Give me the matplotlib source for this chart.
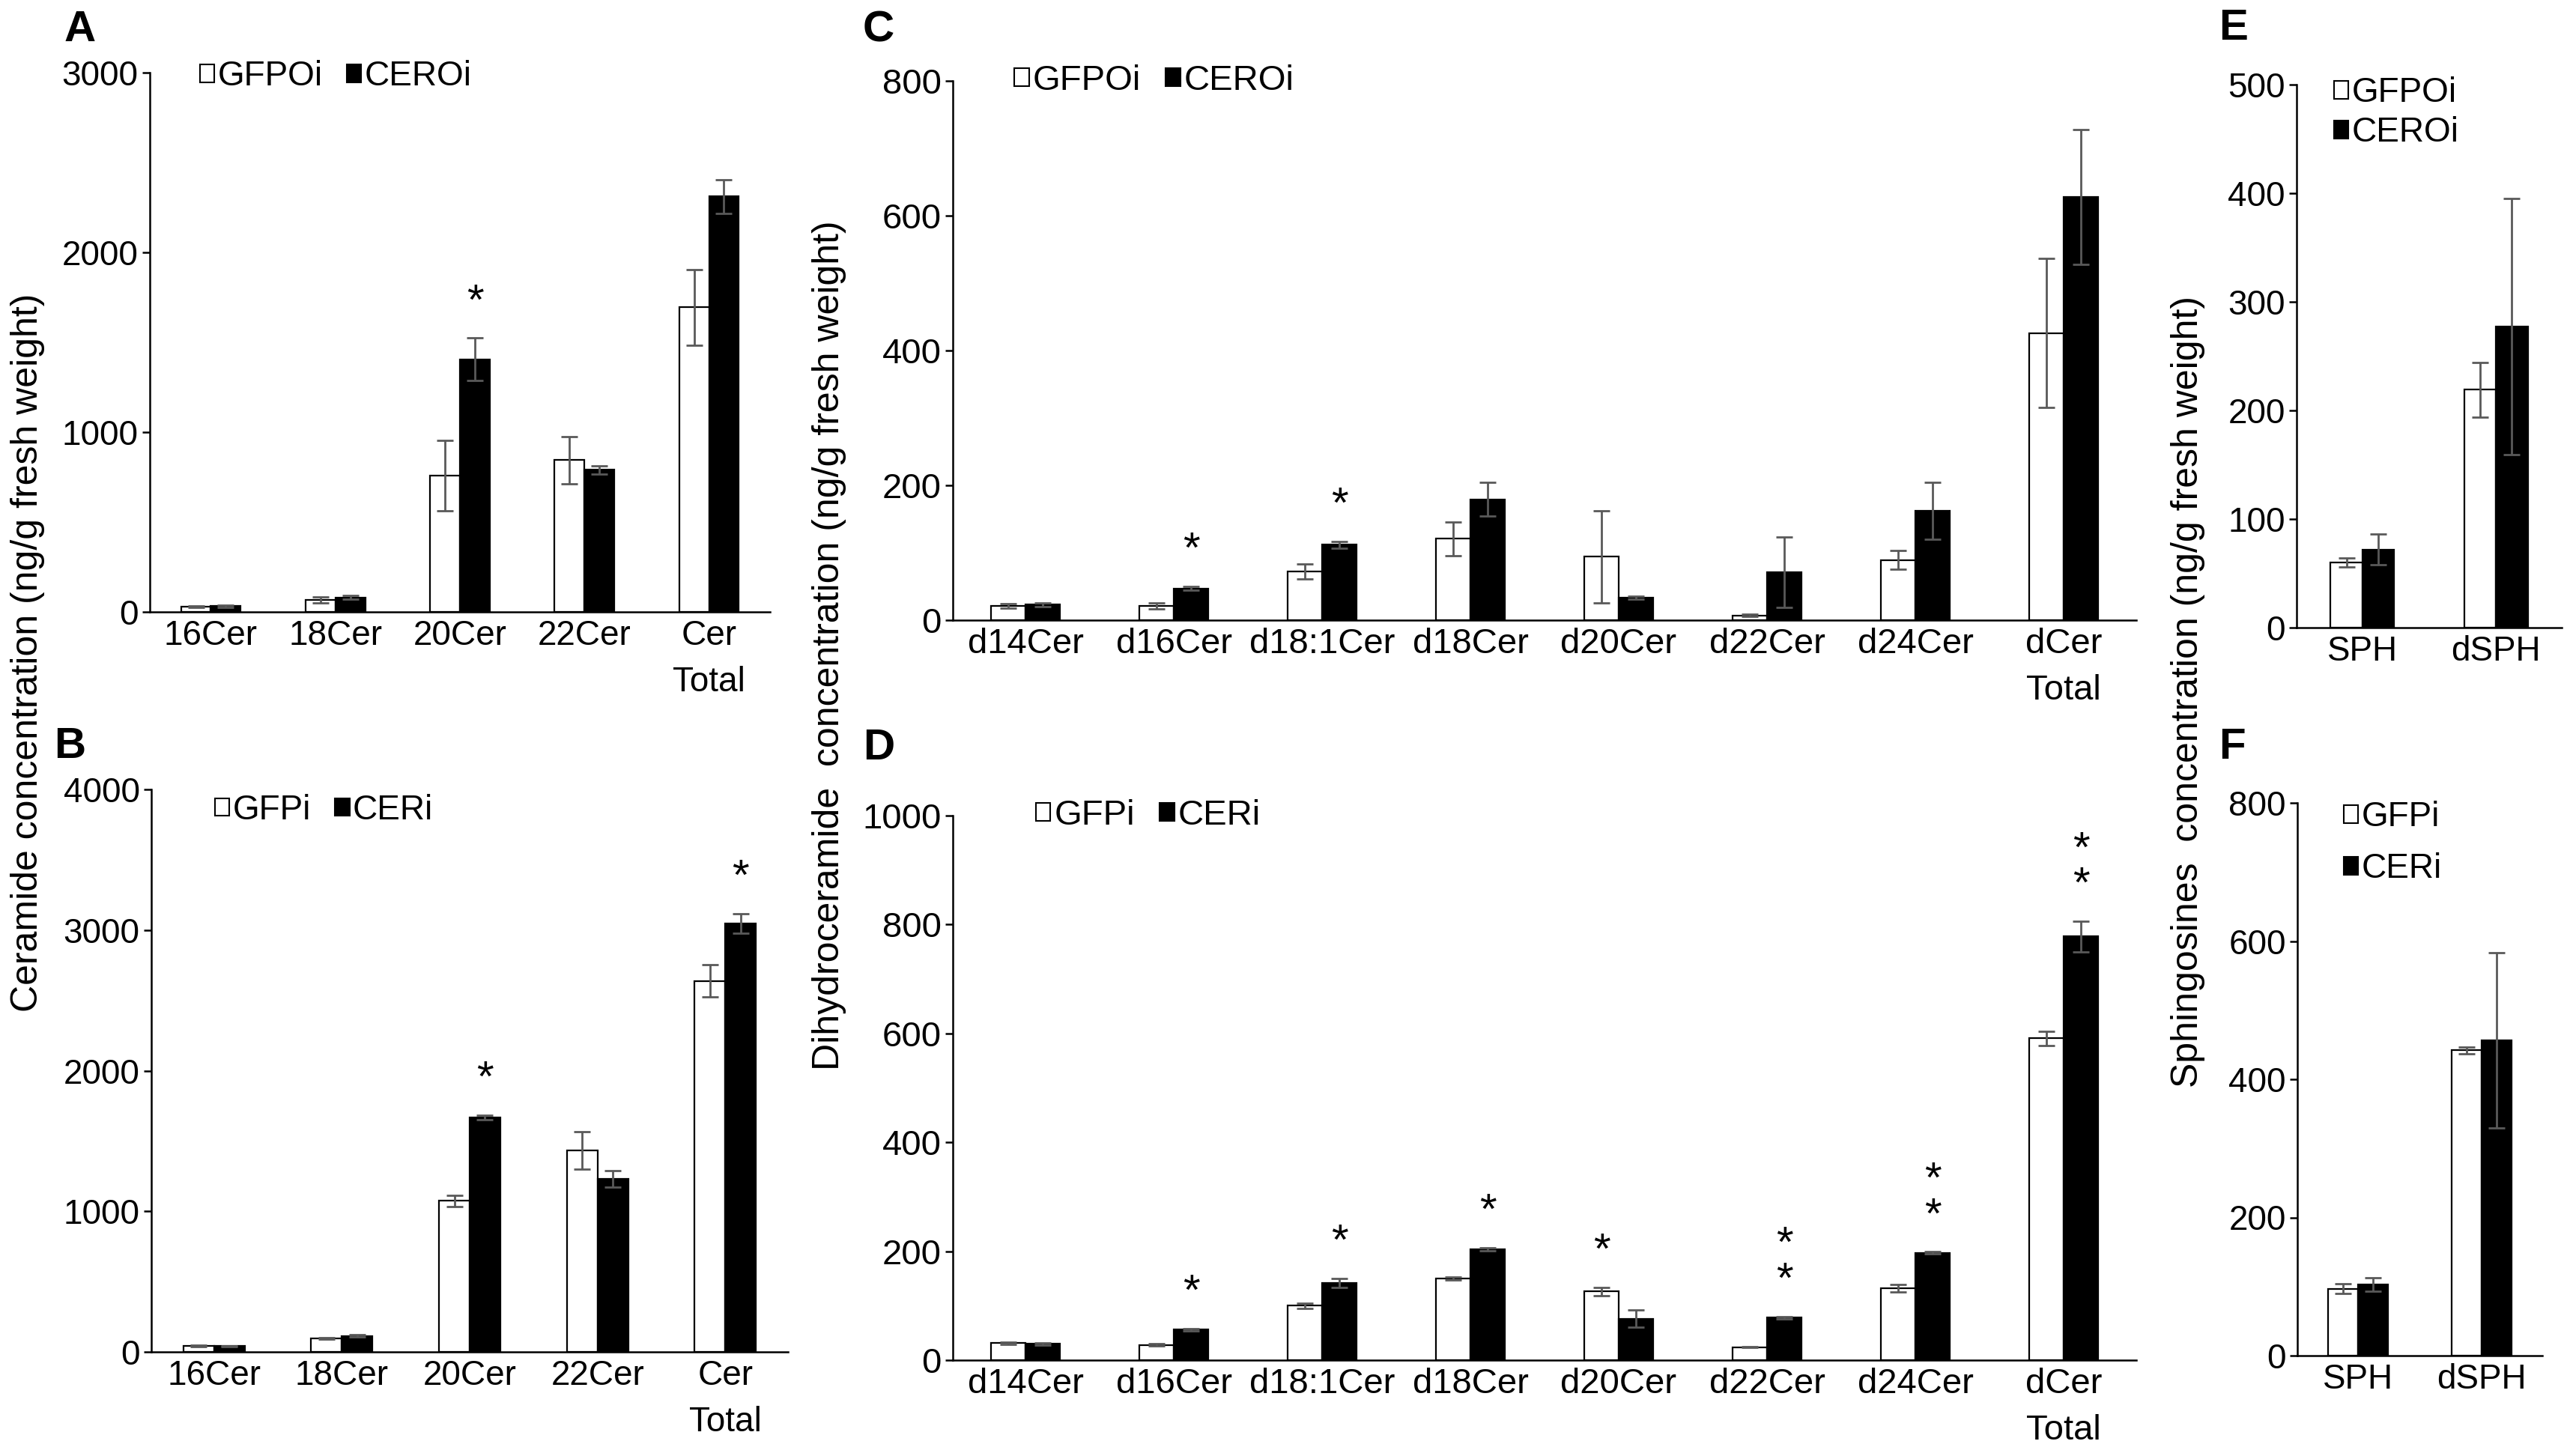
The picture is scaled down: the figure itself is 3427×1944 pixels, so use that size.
import matplotlib
matplotlib.use('Agg')
import matplotlib.pyplot as plt
from matplotlib.patches import Patch
import numpy as np

plt.rcParams['font.family'] = ['Liberation Sans', 'DejaVu Sans']

W, H, DPI = 3427, 1944, 100

# ---------------- data ----------------
# Panel A: ceramides, overexpression lines
a_cats = ['16Cer', '18Cer', '20Cer', '22Cer', 'Cer\nTotal']
a_gfp = [30, 65, 758, 844, 1695]
a_gfp_err = [5, 17, 195, 131, 210]
a_cer = [32, 81, 1406, 790, 2311]
a_cer_err = [5, 12, 117, 22, 93]
a_gfp_sig = [0, 0, 0, 0, 0]
a_cer_sig = [0, 0, 1, 0, 0]

# Panel B: ceramides, RNAi lines
b_cats = ['16Cer', '18Cer', '20Cer', '22Cer', 'Cer\nTotal']
b_gfp = [42, 97, 1074, 1434, 2639]
b_gfp_err = [4, 6, 39, 134, 114]
b_cer = [40, 113, 1667, 1230, 3047]
b_cer_err = [4, 8, 17, 59, 70]
b_gfp_sig = [0, 0, 0, 0, 0]
b_cer_sig = [0, 0, 1, 0, 1]

# Panel C: dihydroceramides, overexpression lines
c_cats = ['d14Cer', 'd16Cer', 'd18:1Cer', 'd18Cer', 'd20Cer', 'd22Cer', 'd24Cer', 'dCer\nTotal']
c_gfp = [21, 21, 72, 121, 94, 7, 89, 426]
c_gfp_err = [3, 4, 11, 25, 68, 2, 14, 111]
c_cer = [23, 47, 112, 179, 33, 71, 162, 628]
c_cer_err = [3, 3, 5, 25, 2, 52, 42, 100]
c_gfp_sig = [0, 0, 0, 0, 0, 0, 0, 0]
c_cer_sig = [0, 1, 1, 0, 0, 0, 0, 0]

# Panel D: dihydroceramides, RNAi lines
d_cats = ['d14Cer', 'd16Cer', 'd18:1Cer', 'd18Cer', 'd20Cer', 'd22Cer', 'd24Cer', 'dCer\nTotal']
d_gfp = [31, 28, 100, 150, 126, 24, 132, 591]
d_gfp_err = [2, 2, 5, 3, 8, 1, 7, 13]
d_cer = [30, 56, 142, 204, 76, 78, 197, 778]
d_cer_err = [2, 2, 8, 3, 16, 2, 2, 28]
d_gfp_sig = [0, 0, 0, 0, 1, 0, 0, 0]
d_cer_sig = [0, 1, 1, 1, 0, 2, 2, 2]

# Panel E: sphingosines, overexpression lines
e_cats = ['SPH', 'dSPH']
e_gfp = [60, 219]
e_gfp_err = [4, 25]
e_cer = [72, 277]
e_cer_err = [14, 118]
e_gfp_sig = [0, 0]
e_cer_sig = [0, 0]

# Panel F: sphingosines, RNAi lines
f_cats = ['SPH', 'dSPH']
f_gfp = [97, 442]
f_gfp_err = [7, 5]
f_cer = [103, 456]
f_cer_err = [10, 127]
f_gfp_sig = [0, 0]
f_cer_sig = [0, 0]

oe_labels = ['GFPOi', 'CEROi']
ri_labels = ['GFPi', 'CERi']

# ---------------- figure ----------------
fig = plt.figure(figsize=(W / DPI, H / DPI), dpi=DPI)

STAR_FS = 42
ERR_C = '#595959'


def make_axes(l, t, r, b):
    return fig.add_axes([l / W, 1 - b / H, (r - l) / W, (b - t) / H])


def panel(rect, cats, gfp, gfp_err, cer, cer_err, gfp_sig, cer_sig, ymax, ystep,
          labels, leg_xy, leg_ncol, labelspacing=0.5, width=0.24, fs=33):
    ax = make_axes(*rect)
    x = np.arange(len(cats))
    ax.bar(x - width / 2, gfp, width, color='white', edgecolor='black', linewidth=1.6, zorder=2)
    ax.bar(x + width / 2, cer, width, color='black', edgecolor='black', linewidth=1.6, zorder=2)
    for xs, v, e in ((x - width / 2, gfp, gfp_err), (x + width / 2, cer, cer_err)):
        ax.errorbar(xs, v, yerr=e, fmt='none', ecolor=ERR_C, elinewidth=2.0,
                    capsize=8, capthick=2.0, zorder=3)
    # significance stars (stacked stars drawn as one multi-line text)
    for xs, v, e, sig in ((x - width / 2, gfp, gfp_err, gfp_sig),
                          (x + width / 2, cer, cer_err, cer_sig)):
        for xi, vi, ei, n in zip(xs, v, e, sig):
            if n == 0:
                continue
            off = 47 - 0.57 * STAR_FS
            ax.annotate('\n'.join(['*'] * n), xy=(xi, vi + ei), xytext=(0, off),
                        textcoords='offset points', ha='center', va='baseline',
                        fontsize=STAR_FS, linespacing=0.85, zorder=4)
    ax.set_xlim(-0.49, len(cats) - 1 + 0.49)
    ax.set_ylim(0, ymax)
    ax.set_yticks(np.arange(0, ymax + 1, ystep))
    ax.set_xticks(x)
    ax.set_xticklabels(cats)
    for t in ax.get_xticklabels():
        t.set_linespacing(1.55)
    ax.spines['top'].set_visible(False)
    ax.spines['right'].set_visible(False)
    for s in ('left', 'bottom'):
        ax.spines[s].set_linewidth(1.8)
    ax.tick_params(axis='y', direction='out', length=7, width=1.8, pad=4, labelsize=fs)
    ax.tick_params(axis='x', length=0, pad=7, labelsize=fs)
    handles = [Patch(facecolor='white', edgecolor='black', linewidth=1.5),
               Patch(facecolor='black', edgecolor='black', linewidth=1.5)]
    ax.legend(handles, labels, loc='center left', bbox_to_anchor=leg_xy, frameon=False,
              borderpad=0, borderaxespad=0, handlelength=0.42, handleheight=0.42,
              handletextpad=0.1, columnspacing=0.7, ncol=leg_ncol, fontsize=fs,
              labelspacing=labelspacing)
    return ax


panel((200, 97, 1028, 817), a_cats, a_gfp, a_gfp_err, a_cer, a_cer_err, a_gfp_sig, a_cer_sig,
      3000, 1000, oe_labels, (0.081, 0.993), 2)
panel((202, 1054, 1052, 1805), b_cats, b_gfp, b_gfp_err, b_cer, b_cer_err, b_gfp_sig, b_cer_sig,
      4000, 1000, ri_labels, (0.10, 0.963), 2)
panel((1272, 108, 2852, 828), c_cats, c_gfp, c_gfp_err, c_cer, c_cer_err, c_gfp_sig, c_cer_sig,
      800, 200, oe_labels, (0.052, 1.0), 2, width=0.232, fs=34)
panel((1272, 1089, 2852, 1816), d_cats, d_gfp, d_gfp_err, d_cer, d_cer_err, d_gfp_sig, d_cer_sig,
      1000, 200, ri_labels, (0.070, 1.0), 2, width=0.232, fs=34)
panel((3066, 113, 3420, 838), e_cats, e_gfp, e_gfp_err, e_cer, e_cer_err, e_gfp_sig, e_cer_sig,
      500, 100, oe_labels, (0.141, 0.948), 1, labelspacing=0.2, width=0.236)
panel((3067, 1072, 3394, 1810), f_cats, f_gfp, f_gfp_err, f_cer, f_cer_err, f_gfp_sig, f_cer_sig,
      800, 200, ri_labels, (0.19, 0.927), 1, labelspacing=0.55, width=0.244)

# y-axis titles
YL_FS = 36
fig.text(37 / W, 1 - 871 / H, 'Ceramide concentration (ng/g fresh weight)', rotation=90,
         ha='center', va='center', fontsize=YL_FS)
fig.text(1107 / W, 1 - 862 / H, 'Dihydroceramide  concentration (ng/g fresh weight)', rotation=90,
         ha='center', va='center', fontsize=YL_FS)
fig.text(2921 / W, 1 - 924 / H, 'Sphingosines  concentration (ng/g fresh weight)', rotation=90,
         ha='center', va='center', fontsize=YL_FS)

# panel letters
LET_FS = 42
em = LET_FS * DPI / 72
for letter, cx, cy in (('A', 107, 34), ('B', 93, 991), ('C', 1173, 35),
                       ('D', 1173, 993), ('E', 2982, 32), ('F', 2980, 992)):
    fig.text(cx / W, 1 - (cy + 0.358 * em) / H, letter, ha='center', va='baseline',
             fontsize=LET_FS, fontweight='bold')

fig.savefig('out.png', dpi=DPI)
